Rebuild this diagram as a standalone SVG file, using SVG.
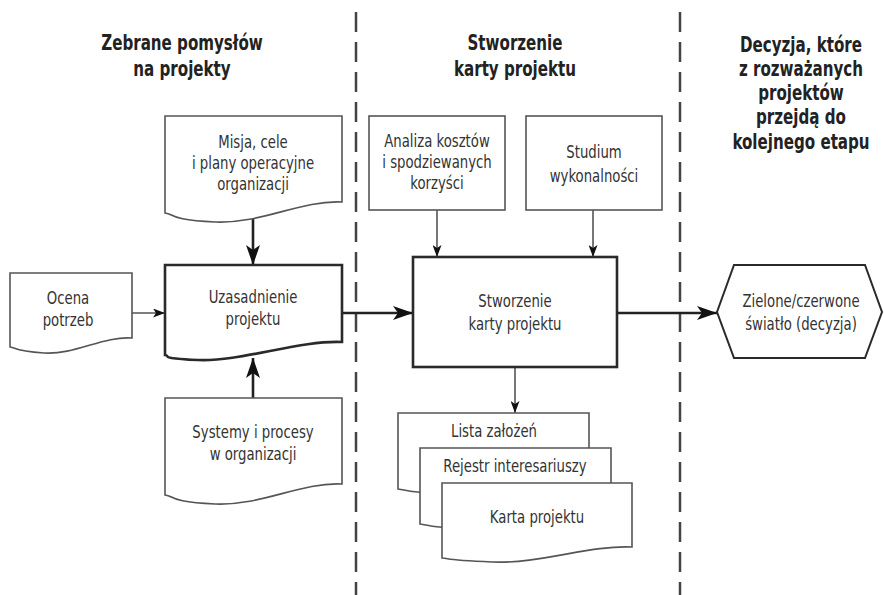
<svg xmlns="http://www.w3.org/2000/svg" width="884" height="595" viewBox="0 0 884 595">
<style>
.bg{fill:#fff}
.title{font-family:"DejaVu Sans Condensed","Liberation Sans",sans-serif;font-weight:bold;font-size:21px;fill:#222;text-anchor:middle}
.t{font-family:"DejaVu Sans Condensed","Liberation Sans",sans-serif;font-size:18px;fill:#333;text-anchor:middle}
.doc{fill:#fff;stroke:#555;stroke-width:1.6}
.main{fill:#fff;stroke:#2a2a2a;stroke-width:2.6}
.sep{stroke:#444;stroke-width:2.5;stroke-dasharray:20 10;fill:none}
.thick{stroke:#222;stroke-width:2.6;fill:none}
.thin{stroke:#555;stroke-width:1.6;fill:none}
</style>
<defs>
<marker id="big" markerUnits="userSpaceOnUse" viewBox="0 0 20 14" refX="20" refY="7" markerWidth="20" markerHeight="14" orient="auto">
<path d="M0,0 L20,7 L0,14 L5,7 Z" fill="#111"/>
</marker>
<marker id="small" markerUnits="userSpaceOnUse" viewBox="0 0 12 9" refX="12" refY="4.5" markerWidth="12" markerHeight="9" orient="auto">
<path d="M0,0 L12,4.5 L0,9 L3,4.5 Z" fill="#111"/>
</marker>
</defs>
<rect class="bg" x="0" y="0" width="884" height="595"/>
<g id="separators">
<line class="sep" x1="356" y1="12" x2="356" y2="595"/>
<line class="sep" x1="680" y1="12" x2="680" y2="595"/>
</g>
<g id="titles">
<text class="title" transform="translate(182,50) scale(0.8,1)">Zebrane pomysłów</text>
<text class="title" transform="translate(182,76) scale(0.8,1)">na projekty</text>
<text class="title" transform="translate(515,50) scale(0.8,1)">Stworzenie</text>
<text class="title" transform="translate(515,76) scale(0.8,1)">karty projektu</text>
<text class="title" transform="translate(801,52) scale(0.8,1)">Decyzja, które</text>
<text class="title" transform="translate(801,76) scale(0.8,1)">z rozważanych</text>
<text class="title" transform="translate(801,100) scale(0.8,1)">projektów</text>
<text class="title" transform="translate(801,124) scale(0.8,1)">przejdą do</text>
<text class="title" transform="translate(801,149) scale(0.8,1)">kolejnego etapu</text>
</g>
<g id="connectors">
<line class="thin" x1="132" y1="313" x2="165" y2="313" marker-end="url(#small)"/>
<line class="thick" x1="253" y1="214" x2="253" y2="265" marker-end="url(#big)"/>
<line class="thick" x1="253" y1="398" x2="253" y2="358" marker-end="url(#big)"/>
<line class="thick" x1="342" y1="313" x2="413" y2="313" marker-end="url(#big)"/>
<line class="thick" x1="617" y1="313" x2="717" y2="313" marker-end="url(#big)"/>
<line class="thin" x1="437" y1="210" x2="437" y2="257" marker-end="url(#small)"/>
<line class="thin" x1="593" y1="210" x2="593" y2="257" marker-end="url(#small)"/>
<line class="thin" x1="515" y1="367" x2="515" y2="413" marker-end="url(#small)"/>
</g>
<g id="misja">
<path class="doc" d="M165,116 H342 V202 C300,200 262,224 215,222 S175,214 165,213 Z"/>
<text class="t" transform="translate(253,148) scale(0.82,1)">Misja, cele</text>
<text class="t" transform="translate(253,169) scale(0.82,1)">i plany operacyjne</text>
<text class="t" transform="translate(253,190) scale(0.82,1)">organizacji</text>
</g>
<g id="ocena">
<path class="doc" d="M10,273 H132 V338 C103,336 75,355 44,353 S17,348 10,347 Z"/>
<text class="t" transform="translate(68,304) scale(0.82,1)">Ocena</text>
<text class="t" transform="translate(68,326) scale(0.82,1)">potrzeb</text>
</g>
<g id="uzasadnienie">
<path class="main" d="M165,265 H342 V342 C300,340 240,362 198,360 S172,356 165,355 Z"/>
<text class="t" transform="translate(253,303) scale(0.82,1)">Uzasadnienie</text>
<text class="t" transform="translate(253,325) scale(0.82,1)">projektu</text>
</g>
<g id="systemy">
<path class="doc" d="M165,398 H342 V484 C300,482 262,506 215,504 S175,496 165,495 Z"/>
<text class="t" transform="translate(253,438) scale(0.82,1)">Systemy i procesy</text>
<text class="t" transform="translate(253,460) scale(0.82,1)">w organizacji</text>
</g>
<g id="analiza">
<rect class="doc" x="369" y="116" width="136" height="94"/>
<text class="t" transform="translate(437,147) scale(0.82,1)">Analiza kosztów</text>
<text class="t" transform="translate(437,168) scale(0.82,1)">i spodziewanych</text>
<text class="t" transform="translate(437,189) scale(0.82,1)">korzyści</text>
</g>
<g id="studium">
<rect class="doc" x="526" y="116" width="136" height="94"/>
<text class="t" transform="translate(594,158) scale(0.82,1)">Studium</text>
<text class="t" transform="translate(594,182) scale(0.82,1)">wykonalności</text>
</g>
<g id="stworzenie">
<rect class="main" x="413" y="257" width="204" height="110"/>
<text class="t" transform="translate(515,307) scale(0.82,1)">Stworzenie</text>
<text class="t" transform="translate(515,330) scale(0.82,1)">karty projektu</text>
</g>
<g id="decyzja">
<polygon class="main" points="717,312 734,265 865,265 882,312 865,358 734,358" style="stroke-width:2"/>
<text class="t" transform="translate(801,307) scale(0.82,1)">Zielone/czerwone</text>
<text class="t" transform="translate(801,330) scale(0.82,1)">światło (decyzja)</text>
</g>
<g id="lista">
<path class="doc" d="M398,413 H589 V478 C546,476 500,496 450,494 S408,490 398,489 Z"/>
<text class="t" transform="translate(494,437) scale(0.82,1)">Lista założeń</text>
</g>
<g id="rejestr">
<path class="doc" d="M420,448 H611 V513 C568,511 522,531 472,529 S430,525 420,524 Z"/>
<text class="t" transform="translate(515,472) scale(0.82,1)">Rejestr interesariuszy</text>
</g>
<g id="karta">
<path class="doc" d="M442,483 H632 V547 C590,545 540,564 492,562 S452,559 442,558 Z"/>
<text class="t" transform="translate(537,523) scale(0.82,1)">Karta projektu</text>
</g>
</svg>
